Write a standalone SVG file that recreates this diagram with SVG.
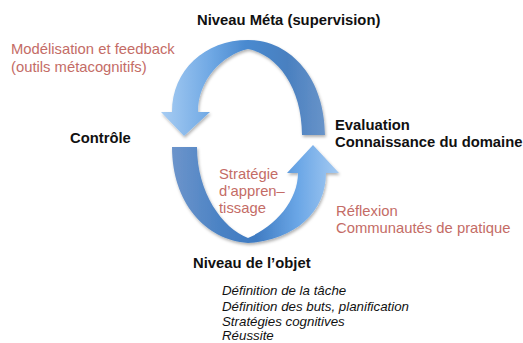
<svg xmlns="http://www.w3.org/2000/svg" width="523" height="343" viewBox="0 0 523 343">
<defs>
<linearGradient id="gTop" x1="160" y1="0" x2="330" y2="0" gradientUnits="userSpaceOnUse">
<stop offset="0" stop-color="#a8cdf3"/>
<stop offset="0.3" stop-color="#6fa8e4"/>
<stop offset="0.5" stop-color="#4a8ad0"/>
<stop offset="0.75" stop-color="#4a80c0"/>
<stop offset="1" stop-color="#6c96ca"/>
</linearGradient>
<linearGradient id="gBot" x1="170" y1="150" x2="340" y2="150" gradientUnits="userSpaceOnUse">
<stop offset="0" stop-color="#6e95cb"/>
<stop offset="0.3" stop-color="#4a82c4"/>
<stop offset="0.5" stop-color="#3f7bc2"/>
<stop offset="0.75" stop-color="#6aa6e6"/>
<stop offset="1" stop-color="#a6cbf2"/>
</linearGradient>
<filter id="sh" x="-10%" y="-10%" width="120%" height="120%">
<feDropShadow dx="1" dy="2" stdDeviation="1.5" flood-color="#000" flood-opacity="0.3"/>
</filter>
</defs>
<style>
.b{font-family:"Liberation Sans",Arial,sans-serif;font-weight:bold;font-size:14.8px;fill:#111}
.r{font-family:"Liberation Sans",Arial,sans-serif;font-size:14.8px;fill:#c46c66}
.i{font-family:"Liberation Sans",Arial,sans-serif;font-style:italic;font-size:13.3px;fill:#111}
</style>
<g id="connectors">
<path id="arrow-top" filter="url(#sh)" fill="url(#gTop)" d="M172,112 C172,70 205,40 248,40 C292,40 325,80 325,135 L302,135 C302,88 278,55 248,49 C222,55 198,80 198,112 L210,112 L184,136 L161,112 Z"/>
<path id="arrow-bottom" filter="url(#sh)" fill="url(#gBot)" d="M172,147 L197,147 C197,192 222,228 248,238 C276,226 298,200 298,173 L287,173 L313,145 L339,173 L326,173 C326,212 295,240 248,243 C205,240 172,202 172,147 Z"/>
</g>
<g id="meta"><text class="b" x="197" y="25">Niveau Méta (supervision)</text></g>
<g id="modelisation">
<text class="r" x="11" y="54">Modélisation et feedback</text>
<text class="r" x="11" y="72">(outils métacognitifs)</text>
</g>
<g id="controle"><text class="b" x="70" y="143">Contrôle</text></g>
<g id="evaluation">
<text class="b" x="335" y="130">Evaluation</text>
<text class="b" x="335" y="147">Connaissance du domaine</text>
</g>
<g id="strategie">
<text class="r" x="219" y="179">Stratégie</text>
<text class="r" x="219" y="196">d’appren–</text>
<text class="r" x="219" y="213">tissage</text>
</g>
<g id="reflexion">
<text class="r" x="336" y="216">Réflexion</text>
<text class="r" x="336" y="233">Communautés de pratique</text>
</g>
<g id="objet"><text class="b" x="193" y="268">Niveau de l’objet</text></g>
<g id="liste">
<text class="i" x="222" y="295">Définition de la tâche</text>
<text class="i" x="222" y="310.5">Définition des buts, planification</text>
<text class="i" x="222" y="326">Stratégies cognitives</text>
<text class="i" x="222" y="340">Réussite</text>
</g>
</svg>
